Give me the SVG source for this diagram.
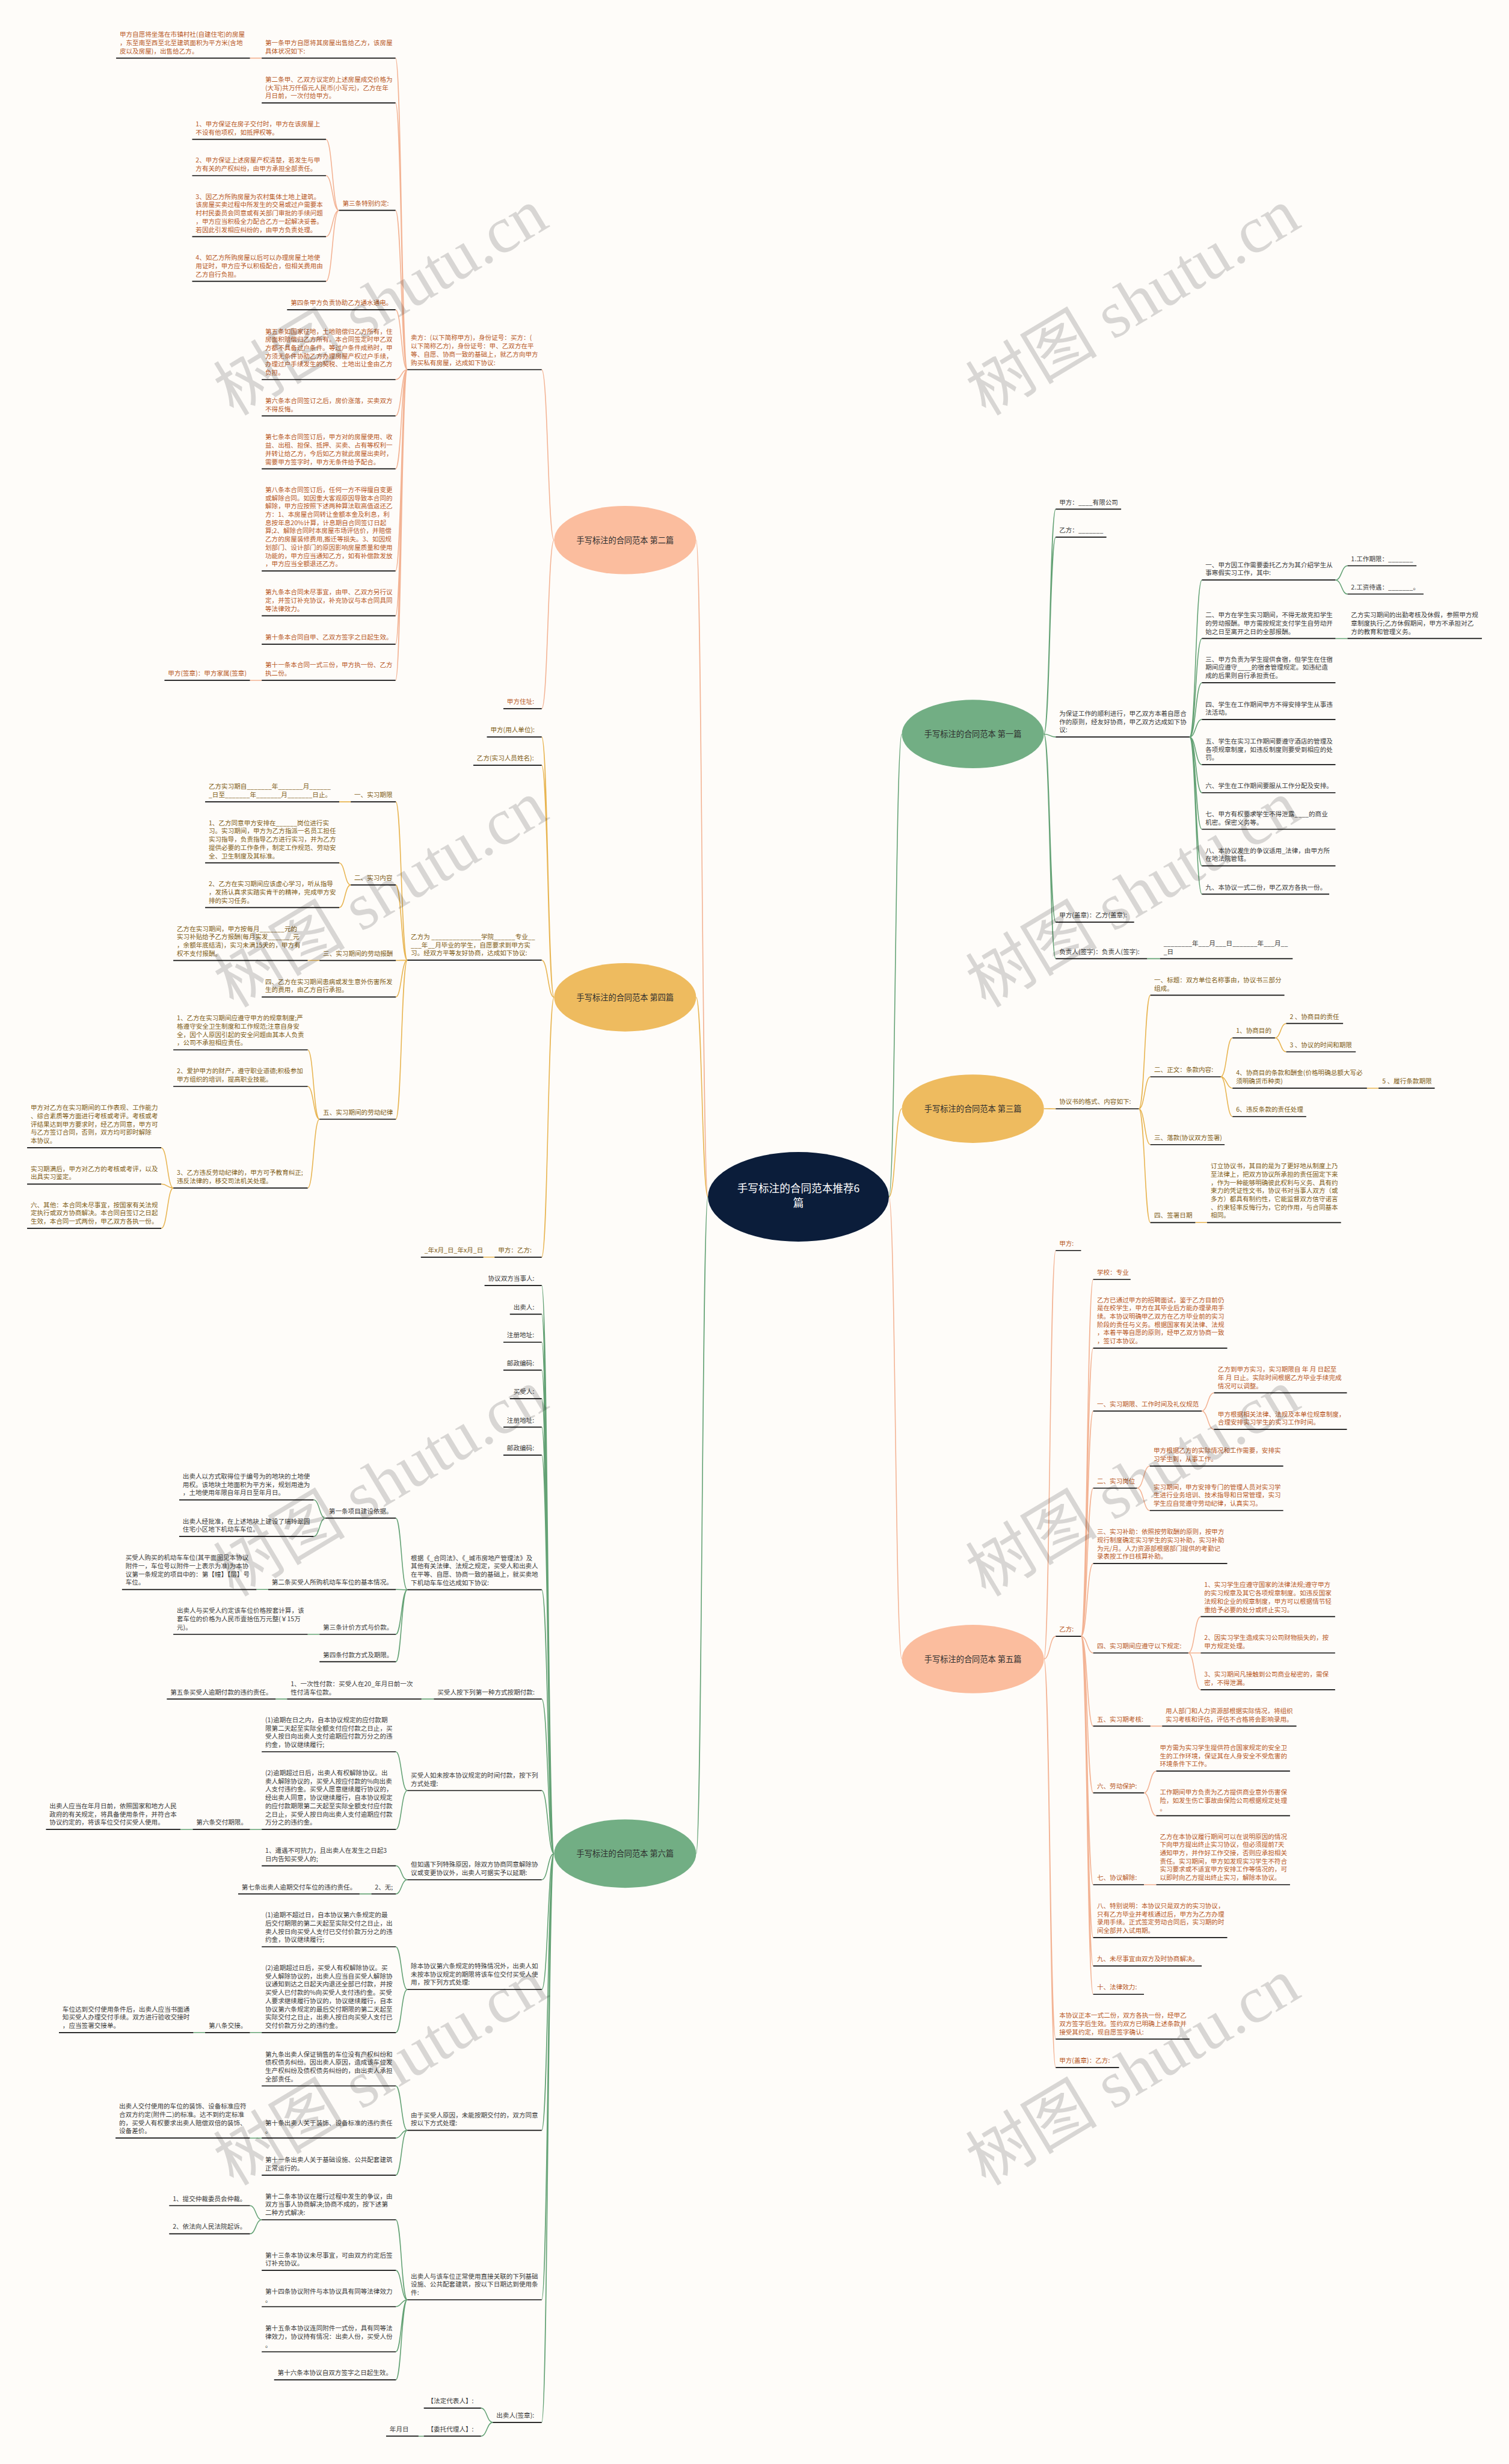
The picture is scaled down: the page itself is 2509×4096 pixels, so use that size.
<svg xmlns="http://www.w3.org/2000/svg" width="2509" height="4096" viewBox="0 0 2509 4096">
<style>
.t{font-family:"Noto Sans CJK SC","Noto Sans",sans-serif;font-size:10.8px}
.o{fill:#b8581f}
.g{fill:#7e5d16}
.d{fill:#3a3a3a}
.u{stroke:#111;stroke-width:1.7;fill:none}
.ks{fill:none;stroke:#f3b394;stroke-width:1.6}
.ky{fill:none;stroke:#e8b552;stroke-width:1.6}
.kg{fill:none;stroke:#64a275;stroke-width:1.6}
.bt{font-family:"Noto Sans CJK SC",sans-serif;font-size:13.5px;fill:#2e2e2e;text-anchor:middle}
.ct{font-family:"Noto Sans CJK SC",sans-serif;font-size:18px;fill:#fff;text-anchor:middle}
.wm{font-family:"Liberation Serif","Noto Sans CJK SC",serif;font-size:112px;fill:#000;fill-opacity:.15;text-anchor:middle}
</style>
<rect width="2509" height="4096" fill="#fefcf9"/>
<g transform="scale(0.98008)">
<g id="connectors">
<path class="ks" d="M1201 2030C1191 2030 1191 916 1181 916M940 916C929.5 916 929.5 627 919 627M940 916C929.5 916 929.5 1202 919 1202M691 627C681 627 681 98.6 671 98.6M691 627C681 627 681 174.6 671 174.6M691 627C681 627 681 356.8 671 356.8M691 627C681 627 681 525.4 671 525.4M691 627C681 627 681 643.8 671 643.8M691 627C681 627 681 705.5 671 705.5M691 627C681 627 681 795.3 671 795.3M691 627C681 627 681 968.5 671 968.5M691 627C681 627 681 1044.4 671 1044.4M691 627C681 627 681 1092.6 671 1092.6M691 627C681 627 681 1153.9 671 1153.9M444 98.6H424M575 356.8C564 356.8 564 236.4 553 236.4M575 356.8C564 356.8 564 297.9 553 297.9M575 356.8C564 356.8 564 401.4 553 401.4M575 356.8C564 356.8 564 477.1 553 477.1M444 1153.9H424"/>
<path class="ks" d="M1508 2030C1519 2030 1519 2814 1530 2814M1771 2814C1781 2814 1781 2121 1791 2121M1771 2814C1781 2814 1781 2775.4 1791 2775.4M1771 2814C1781 2814 1781 3458.6 1791 3458.6M1771 2814C1781 2814 1781 3506.8 1791 3506.8M1834 2775.4C1844.3 2775.4 1844.3 2170 1854.6 2170M1834 2775.4C1844.3 2775.4 1844.3 2286.6 1854.6 2286.6M1834 2775.4C1844.3 2775.4 1844.3 2393.3 1854.6 2393.3M1834 2775.4C1844.3 2775.4 1844.3 2524 1854.6 2524M1834 2775.4C1844.3 2775.4 1844.3 2652 1854.6 2652M1834 2775.4C1844.3 2775.4 1844.3 2803.6 1854.6 2803.6M1834 2775.4C1844.3 2775.4 1844.3 2927.7 1854.6 2927.7M1834 2775.4C1844.3 2775.4 1844.3 3041 1854.6 3041M1834 2775.4C1844.3 2775.4 1844.3 3196.7 1854.6 3196.7M1834 2775.4C1844.3 2775.4 1844.3 3286.4 1854.6 3286.4M1834 2775.4C1844.3 2775.4 1844.3 3334.5 1854.6 3334.5M1834 2775.4C1844.3 2775.4 1844.3 3382.6 1854.6 3382.6M2038.7 2393.3C2049 2393.3 2049 2362.5 2059.6 2362.5M2038.7 2393.3C2049 2393.3 2049 2424.5 2059.6 2424.5M1929 2524C1940 2524 1940 2486.6 1950.6 2486.6M1929 2524C1940 2524 1940 2562 1950.6 2562M2016 2803.6C2026.5 2803.6 2026.5 2742 2037 2742M2016 2803.6H2037M2016 2803.6C2026.5 2803.6 2026.5 2866 2037 2866M1951.6 2927.7H1971.5M1940.7 3041C1951 3041 1951 3004 1961.6 3004M1940.7 3041C1951 3041 1951 3079.7 1961.6 3079.7M1940.7 3196.7H1961.6"/>
<path class="ky" d="M1201 2030C1191 2030 1191 1691.5 1181 1691.5M940 1691.5C929.5 1691.5 929.5 1250 919 1250M940 1691.5C929.5 1691.5 929.5 1297.9 919 1297.9M940 1691.5C929.5 1691.5 929.5 1628.6 919 1628.6M940 1691.5C929.5 1691.5 929.5 2132.3 919 2132.3M691 1628.6C681 1628.6 681 1360 671.5 1360M691 1628.6C681 1628.6 681 1501 671.5 1501M691 1628.6C681 1628.6 681 1629 671.5 1629M691 1628.6C681 1628.6 681 1691 671.5 1691M691 1628.6C681 1628.6 681 1898.3 671.5 1898.3M595 1360H575.5M595 1501C585 1501 585 1463.6 575.5 1463.6M595 1501C585 1501 585 1539.3 575.5 1539.3M542 1629H522M542 1898.3C532 1898.3 532 1780.7 522 1780.7M542 1898.3C532 1898.3 532 1842.7 522 1842.7M542 1898.3C532 1898.3 532 2015 522 2015M294 2015C284 2015 284 1946.7 273.5 1946.7M294 2015C284 2015 284 2008.3 273.5 2008.3M294 2015C284 2015 284 2083.3 273.5 2083.3M839 2132.3H820"/>
<path class="ky" d="M1508 2030C1519 2030 1519 1880.5 1530 1880.5M1771 1880.5C1781 1880.5 1781 1880.7 1791 1880.7M1932 1880.7C1942 1880.7 1942 1688 1951.6 1688M1932 1880.7C1942 1880.7 1942 1826.4 1951.6 1826.4M1932 1880.7C1942 1880.7 1942 1941.4 1951.6 1941.4M1932 1880.7C1942 1880.7 1942 2073.6 1951.6 2073.6M2071 1826.4C2081 1826.4 2081 1760.4 2091 1760.4M2071 1826.4C2081 1826.4 2081 1845.7 2091 1845.7M2071 1826.4C2081 1826.4 2081 1894 2091 1894M2163 1760.4C2172.5 1760.4 2172.5 1736 2182 1736M2163 1760.4C2172.5 1760.4 2172.5 1784 2182 1784M2319 1845.7H2338.7M2027.8 2073.6H2047.7"/>
<path class="kg" d="M1201 2030C1191 2030 1191 3144 1181 3144M940 3144C929.5 3144 929.5 2180.3 919 2180.3M940 3144C929.5 3144 929.5 2229 919 2229M940 3144C929.5 3144 929.5 2276.6 919 2276.6M940 3144C929.5 3144 929.5 2324 919 2324M940 3144C929.5 3144 929.5 2372.4 919 2372.4M940 3144C929.5 3144 929.5 2420.6 919 2420.6M940 3144C929.5 3144 929.5 2468 919 2468M940 3144C929.5 3144 929.5 2696.4 919 2696.4M940 3144C929.5 3144 929.5 2881.8 919 2881.8M940 3144C929.5 3144 929.5 3037 919 3037M940 3144C929.5 3144 929.5 3188.3 919 3188.3M940 3144C929.5 3144 929.5 3374.5 919 3374.5M940 3144C929.5 3144 929.5 3613.3 919 3613.3M940 3144C929.5 3144 929.5 3900.7 919 3900.7M940 3144C929.5 3144 929.5 4108.7 919 4108.7M691 2696.4C681 2696.4 681 2575 671.5 2575M691 2696.4C681 2696.4 681 2696 671.5 2696M691 2696.4C681 2696.4 681 2772 671.5 2772M691 2696.4C681 2696.4 681 2818.6 671.5 2818.6M552 2575C542 2575 542 2544 532 2544M552 2575C542 2575 542 2606 532 2606M455 2696H435M542 2772H522M736 2881.8H715M487 2881.8H467.6M691 3037C681 3037 681 2971.2 671.5 2971.2M691 3037C681 3037 681 3103 671.5 3103M444 3103H424M327 3103H306M691 3188.3C681 3188.3 681 3164.6 671.5 3164.6M691 3188.3C681 3188.3 681 3212.4 671.5 3212.4M630 3212.4H610M691 3374.5C681 3374.5 681 3302 671.5 3302M691 3374.5C681 3374.5 681 3447.5 671.5 3447.5M444 3447.5H424M348 3447.5H328M691 3613.3C681 3613.3 681 3538 671.5 3538M691 3613.3C681 3613.3 681 3626.4 671.5 3626.4M691 3613.3C681 3613.3 681 3689.4 671.5 3689.4M444 3626.4H424M691 3900.7C681 3900.7 681 3765 671.5 3765M691 3900.7C681 3900.7 681 3850.8 671.5 3850.8M691 3900.7C681 3900.7 681 3912.4 671.5 3912.4M691 3900.7C681 3900.7 681 3989 671.5 3989M691 3900.7C681 3900.7 681 4036.5 671.5 4036.5M444 3765C434 3765 434 3741 424 3741M444 3765C434 3765 434 3788.8 424 3788.8M836 4108.7C826 4108.7 826 4084.5 816 4084.5M836 4108.7C826 4108.7 826 4132 816 4132M719 4132H710"/>
<path class="kg" d="M1508 2030C1519 2030 1519 1245 1530 1245M1771 1245C1781 1245 1781 863.6 1791 863.6M1771 1245C1781 1245 1781 911 1791 911M1771 1245C1781 1245 1781 1250 1791 1250M1771 1245C1781 1245 1781 1564 1791 1564M1771 1245C1781 1245 1781 1626 1791 1626M2018 1250C2028.5 1250 2028.5 983.8 2039 983.8M2018 1250C2028.5 1250 2028.5 1083 2039 1083M2018 1250C2028.5 1250 2028.5 1158 2039 1158M2018 1250C2028.5 1250 2028.5 1220.4 2039 1220.4M2018 1250C2028.5 1250 2028.5 1297 2039 1297M2018 1250C2028.5 1250 2028.5 1344.5 2039 1344.5M2018 1250C2028.5 1250 2028.5 1406.5 2039 1406.5M2018 1250C2028.5 1250 2028.5 1468.6 2039 1468.6M2018 1250C2028.5 1250 2028.5 1516.6 2039 1516.6M2265.6 983.8C2276 983.8 2276 959.6 2286 959.6M2265.6 983.8C2276 983.8 2276 1007.6 2286 1007.6M2265.6 1083H2286M1946 1626H1968"/>
</g>

<g id="center"><ellipse cx="1354.5" cy="2030" rx="153.5" ry="76" fill="#0b1d3a"/><text class="ct" x="1354.5" y="2022">手写标注的合同范本推荐6</text><text class="ct" x="1354.5" y="2047">篇</text></g>
<g id="b2"><ellipse cx="1060.5" cy="916" rx="120.5" ry="58" fill="#fbbd9e"/><text class="bt" x="1060.5" y="921">手写标注的合同范本 第二篇</text></g>
<g id="b4"><ellipse cx="1060.5" cy="1691.5" rx="120.5" ry="58" fill="#eebb5f"/><text class="bt" x="1060.5" y="1696.5">手写标注的合同范本 第四篇</text></g>
<g id="b6"><ellipse cx="1060.5" cy="3144" rx="120.5" ry="58" fill="#72ae84"/><text class="bt" x="1060.5" y="3149">手写标注的合同范本 第六篇</text></g>
<g id="b1"><ellipse cx="1650.5" cy="1245" rx="120.5" ry="58" fill="#72ae84"/><text class="bt" x="1650.5" y="1250">手写标注的合同范本 第一篇</text></g>
<g id="b3"><ellipse cx="1650.5" cy="1880.5" rx="120.5" ry="58" fill="#eebb5f"/><text class="bt" x="1650.5" y="1885.5">手写标注的合同范本 第三篇</text></g>
<g id="b5"><ellipse cx="1650.5" cy="2814" rx="120.5" ry="58" fill="#fbbd9e"/><text class="bt" x="1650.5" y="2819">手写标注的合同范本 第五篇</text></g>

<!-- 第二篇 -->
<g id="n2_0"><text class="t o"><tspan x="697" y="577">卖方：(以下简称甲方)，身份证号：买方：(</tspan><tspan x="697" y="591">以下简称乙方)，身份证号：甲、乙双方在平</tspan><tspan x="697" y="605">等、自愿、协商一致的基础上，就乙方向甲方</tspan><tspan x="697" y="619">购买私有房屋，达成如下协议:</tspan></text><path class="u" d="M691 627H919"/></g>
<g id="n2_1"><text class="t o"><tspan x="450" y="76.6">第一条甲方自愿将其房屋出售给乙方，该房屋</tspan><tspan x="450" y="90.6">具体状况如下:</tspan></text><path class="u" d="M444 98.6H671"/></g>
<g id="n2_1a"><text class="t o"><tspan x="203" y="62.6">甲方自愿将坐落在市镇村社(自建住宅)的房屋</tspan><tspan x="203" y="76.6">，东至南至西至北至建筑面积为平方米(含地</tspan><tspan x="203" y="90.6">皮以及房屋)，出售给乙方。</tspan></text><path class="u" d="M197 98.6H424"/></g>
<g id="n2_2"><text class="t o"><tspan x="450" y="138.6">第二条甲、乙双方议定的上述房屋成交价格为</tspan><tspan x="450" y="152.6">(大写)共万仟佰元人民币(小写元)，乙方在年</tspan><tspan x="450" y="166.6">月日前，一次付给甲方。</tspan></text><path class="u" d="M444 174.6H671"/></g>
<g id="n2_3"><text class="t o" x="581" y="348.8">第三条特别约定:</text><path class="u" d="M575 356.8H671"/></g>
<g id="n2_3a"><text class="t o"><tspan x="332" y="214.4">1、甲方保证在房子交付时，甲方在该房屋上</tspan><tspan x="332" y="228.4">不设有他项权，如抵押权等。</tspan></text><path class="u" d="M326 236.4H553"/></g>
<g id="n2_3b"><text class="t o"><tspan x="332" y="275.9">2、甲方保证上述房屋产权清楚，若发生与甲</tspan><tspan x="332" y="289.9">方有关的产权纠纷，由甲方承担全部责任。</tspan></text><path class="u" d="M326 297.9H553"/></g>
<g id="n2_3c"><text class="t o"><tspan x="332" y="337.4">3、因乙方所购房屋为农村集体土地上建筑。</tspan><tspan x="332" y="351.4">该房屋买卖过程中所发生的交易或过户需要本</tspan><tspan x="332" y="365.4">村村民委员会同意或有关部门审批的手续问题</tspan><tspan x="332" y="379.4">，甲方应当积极全力配合乙方一起解决妥善。</tspan><tspan x="332" y="393.4">若因此引发相应纠纷的，由甲方负责处理。</tspan></text><path class="u" d="M326 401.4H553"/></g>
<g id="n2_3d"><text class="t o"><tspan x="332" y="441.1">4、如乙方所购房屋以后可以办理房屋土地使</tspan><tspan x="332" y="455.1">用证时，甲方应予以积极配合，但相关费用由</tspan><tspan x="332" y="469.1">乙方自行负担。</tspan></text><path class="u" d="M326 477.1H553"/></g>
<g id="n2_4"><text class="t o" x="493" y="517.4">第四条甲方负责协助乙方通水通电。</text><path class="u" d="M487 525.4H671"/></g>
<g id="n2_5"><text class="t o"><tspan x="450" y="565.8">第五条如国家征地，土地赔偿归乙方所有，住</tspan><tspan x="450" y="579.8">房面积赔偿归乙方所有。本合同签定时甲乙双</tspan><tspan x="450" y="593.8">方都不具备过户条件。等过户条件成熟时，甲</tspan><tspan x="450" y="607.8">方须无条件协助乙方办理房屋产权过户手续，</tspan><tspan x="450" y="621.8">办理过户手续发生的契税、土地出让金由乙方</tspan><tspan x="450" y="635.8">负担。</tspan></text><path class="u" d="M444 643.8H671"/></g>
<g id="n2_6"><text class="t o"><tspan x="450" y="683.5">第六条本合同签订之后，房价涨落，买卖双方</tspan><tspan x="450" y="697.5">不得反悔。</tspan></text><path class="u" d="M444 705.5H671"/></g>
<g id="n2_7"><text class="t o"><tspan x="450" y="745.3">第七条本合同签订后，甲方对的房屋使用、收</tspan><tspan x="450" y="759.3">益、出租、担保、抵押、买卖、占有等权利一</tspan><tspan x="450" y="773.3">并转让给乙方，今后如乙方就此房屋出卖时，</tspan><tspan x="450" y="787.3">需要甲方签字时，甲方无条件给予配合。</tspan></text><path class="u" d="M444 795.3H671"/></g>
<g id="n2_8"><text class="t o"><tspan x="450" y="834.5">第八条本合同签订后，任何一方不得擅自变更</tspan><tspan x="450" y="848.5">或解除合同。如因重大客观原因导致本合同的</tspan><tspan x="450" y="862.5">解除，甲方应按照下述两种算法取高值返还乙</tspan><tspan x="450" y="876.5">方：1、本房屋合同转让金额本金及利息，利</tspan><tspan x="450" y="890.5">息按年息20%计算，计息期自合同签订日起</tspan><tspan x="450" y="904.5">算;2、解除合同时本房屋市场评估价，并赔偿</tspan><tspan x="450" y="918.5">乙方的房屋装修费用,搬迁等损失。3、如因规</tspan><tspan x="450" y="932.5">划部门、设计部门的原因影响房屋质量和使用</tspan><tspan x="450" y="946.5">功能的，甲方应当通知乙方，如有补偿款发放</tspan><tspan x="450" y="960.5">，甲方应当全额退还乙方。</tspan></text><path class="u" d="M444 968.5H671"/></g>
<g id="n2_9"><text class="t o"><tspan x="450" y="1008.4">第九条本合同未尽事宜，由甲、乙双方另行议</tspan><tspan x="450" y="1022.4">定，并签订补充协议，补充协议与本合同具同</tspan><tspan x="450" y="1036.4">等法律效力。</tspan></text><path class="u" d="M444 1044.4H671"/></g>
<g id="n2_10"><text class="t o" x="450" y="1084.6">第十条本合同自甲、乙双方签字之日起生效。</text><path class="u" d="M444 1092.6H671"/></g>
<g id="n2_11"><text class="t o"><tspan x="450" y="1131.9">第十一条本合同一式三份，甲方执一份、乙方</tspan><tspan x="450" y="1145.9">执二份。</tspan></text><path class="u" d="M444 1153.9H671"/></g>
<g id="n2_11a"><text class="t o" x="285" y="1145.9">甲方(签章)：甲方家属(签章)</text><path class="u" d="M279 1153.9H424"/></g>
<g id="n2_j"><text class="t o" x="860" y="1194">甲方住址:</text><path class="u" d="M854 1202H919"/></g>

<!-- 第四篇 -->
<g id="n4_1"><text class="t g" x="832" y="1242">甲方(用人单位):</text><path class="u" d="M826 1250H919"/></g>
<g id="n4_2"><text class="t g" x="809" y="1289.9">乙方(实习人员姓名):</text><path class="u" d="M803 1297.9H919"/></g>
<g id="n4_3"><text class="t g"><tspan x="697" y="1592.6">乙方为 ______________学院______专业__</tspan><tspan x="697" y="1606.6">___年__月毕业的学生，自愿要求到甲方实</tspan><tspan x="697" y="1620.6">习。经双方平等友好协商，达成如下协议:</tspan></text><path class="u" d="M691 1628.6H919"/></g>
<g id="n4_3a"><text class="t g" x="601" y="1352">一、实习期限</text><path class="u" d="M595 1360H671.5"/></g>
<g id="n4_3a1"><text class="t g"><tspan x="354" y="1338">乙方实习期自_______年_______月______</tspan><tspan x="354" y="1352">_日至_______年_______月_______日止。</tspan></text><path class="u" d="M348 1360H575.5"/></g>
<g id="n4_3b"><text class="t g" x="601" y="1493">二、实习内容</text><path class="u" d="M595 1501H671.5"/></g>
<g id="n4_3b1"><text class="t g"><tspan x="354" y="1399.6">1、乙方同意甲方安排在______岗位进行实</tspan><tspan x="354" y="1413.6">习。实习期间，甲方为乙方指派一名员工担任</tspan><tspan x="354" y="1427.6">实习指导，负责指导乙方进行实习，并为乙方</tspan><tspan x="354" y="1441.6">提供必要的工作条件，制定工作规范、劳动安</tspan><tspan x="354" y="1455.6">全、卫生制度及其标准。</tspan></text><path class="u" d="M348 1463.6H575.5"/></g>
<g id="n4_3b2"><text class="t g"><tspan x="354" y="1503.3">2、乙方在实习期间应该虚心学习，听从指导</tspan><tspan x="354" y="1517.3">，发扬认真求实踏实肯干的精神，完成甲方安</tspan><tspan x="354" y="1531.3">排的实习任务。</tspan></text><path class="u" d="M348 1539.3H575.5"/></g>
<g id="n4_3c"><text class="t g" x="548" y="1621">三、实习期间的劳动报酬</text><path class="u" d="M542 1629H671.5"/></g>
<g id="n4_3c1"><text class="t g"><tspan x="300" y="1579">乙方在实习期间，甲方按每月_______元的</tspan><tspan x="300" y="1593">实习补贴给予乙方报酬(每月实发_______元</tspan><tspan x="300" y="1607">，余额年底结清)，实习未满15天的，甲方有</tspan><tspan x="300" y="1621">权不支付报酬。</tspan></text><path class="u" d="M294 1629H522"/></g>
<g id="n4_3d"><text class="t g"><tspan x="450" y="1669">四、乙方在实习期间患病或发生意外伤害所发</tspan><tspan x="450" y="1683">生的费用，由乙方自行承担。</tspan></text><path class="u" d="M444 1691H671.5"/></g>
<g id="n4_3e"><text class="t g" x="548" y="1890.3">五、实习期间的劳动纪律</text><path class="u" d="M542 1898.3H671.5"/></g>
<g id="n4_3e1"><text class="t g"><tspan x="300" y="1730.7">1、乙方在实习期间应遵守甲方的规章制度;严</tspan><tspan x="300" y="1744.7">格遵守安全卫生制度和工作规范;注意自身安</tspan><tspan x="300" y="1758.7">全，因个人原因引起的安全问题由其本人负责</tspan><tspan x="300" y="1772.7">，公司不承担相应责任。</tspan></text><path class="u" d="M294 1780.7H522"/></g>
<g id="n4_3e2"><text class="t g"><tspan x="300" y="1820.7">2、爱护甲方的财产，遵守职业道德;积极参加</tspan><tspan x="300" y="1834.7">甲方组织的培训，提高职业技能。</tspan></text><path class="u" d="M294 1842.7H522"/></g>
<g id="n4_3e3"><text class="t g"><tspan x="300" y="1993">3、乙方违反劳动纪律的，甲方可予教育纠正;</tspan><tspan x="300" y="2007">违反法律的，移交司法机关处理。</tspan></text><path class="u" d="M294 2015H522"/></g>
<g id="n4_3e3a"><text class="t g"><tspan x="52" y="1882.7">甲方对乙方在实习期间的工作表现、工作能力</tspan><tspan x="52" y="1896.7">、综合素质等方面进行考核或考评。考核或考</tspan><tspan x="52" y="1910.7">评结果达到甲方要求时，经乙方同意，甲方可</tspan><tspan x="52" y="1924.7">与乙方签订合同，否则，双方均可即时解除</tspan><tspan x="52" y="1938.7">本协议。</tspan></text><path class="u" d="M46 1946.7H273.5"/></g>
<g id="n4_3e3b"><text class="t g"><tspan x="52" y="1986.3">实习期满后，甲方对乙方的考核或考评，以及</tspan><tspan x="52" y="2000.3">出具实习鉴定。</tspan></text><path class="u" d="M46 2008.3H273.5"/></g>
<g id="n4_3e3c"><text class="t g"><tspan x="52" y="2047.3">六、其他：本合同未尽事宜，按国家有关法规</tspan><tspan x="52" y="2061.3">定执行或双方协商解决。本合同自签订之日起</tspan><tspan x="52" y="2075.3">生效，本合同一式两份，甲乙双方各执一份。</tspan></text><path class="u" d="M46 2083.3H273.5"/></g>
<g id="n4_4"><text class="t g" x="845" y="2124.3">甲方：乙方:</text><path class="u" d="M839 2132.3H919"/></g>
<g id="n4_4a"><text class="t g" x="720" y="2124.3">_年x月_日_年x月_日</text><path class="u" d="M714 2132.3H820"/></g>

<!-- 第六篇 -->
<g id="n6_1"><text class="t d" x="828" y="2172.3">协议双方当事人:</text><path class="u" d="M822 2180.3H919"/></g>
<g id="n6_2"><text class="t d" x="871" y="2221">出卖人:</text><path class="u" d="M865 2229H919"/></g>
<g id="n6_3"><text class="t d" x="860" y="2268.6">注册地址:</text><path class="u" d="M854 2276.6H919"/></g>
<g id="n6_4"><text class="t d" x="860" y="2316">邮政编码:</text><path class="u" d="M854 2324H919"/></g>
<g id="n6_5"><text class="t d" x="871" y="2364.4">买受人:</text><path class="u" d="M865 2372.4H919"/></g>
<g id="n6_6"><text class="t d" x="860" y="2412.6">注册地址:</text><path class="u" d="M854 2420.6H919"/></g>
<g id="n6_7"><text class="t d" x="860" y="2460">邮政编码:</text><path class="u" d="M854 2468H919"/></g>
<g id="n6_8"><text class="t d"><tspan x="697" y="2646.4">根据《_合同法》、《_城市房地产管理法》及</tspan><tspan x="697" y="2660.4">其他有关法律、法规之规定，买受人和出卖人</tspan><tspan x="697" y="2674.4">在平等、自愿、协商一致的基础上，就买卖地</tspan><tspan x="697" y="2688.4">下机动车车位达成如下协议:</tspan></text><path class="u" d="M691 2696.4H919"/></g>
<g id="n6_8a"><text class="t d" x="558" y="2567">第一条项目建设依据。</text><path class="u" d="M552 2575H671.5"/></g>
<g id="n6_8a1"><text class="t d"><tspan x="310" y="2508">出卖人以方式取得位于编号为的地块的土地使</tspan><tspan x="310" y="2522">用权。该地块土地面积为平方米，规划用途为</tspan><tspan x="310" y="2536">，土地使用年限自年月日至年月日。</tspan></text><path class="u" d="M304 2544H532"/></g>
<g id="n6_8a2"><text class="t d"><tspan x="310" y="2584">出卖人经批准，在上述地块上建设了瑞玲翠园</tspan><tspan x="310" y="2598">住宅小区地下机动车车位。</tspan></text><path class="u" d="M304 2606H532"/></g>
<g id="n6_8b"><text class="t d" x="461" y="2688">第二条买受人所购机动车车位的基本情况。</text><path class="u" d="M455 2696H671.5"/></g>
<g id="n6_8b1"><text class="t d"><tspan x="213" y="2646">买受人购买的机动车车位(其平面图见本协议</tspan><tspan x="213" y="2660">附件一，车位号以附件一上表示为准)为本协</tspan><tspan x="213" y="2674">议第一条规定的项目中的：第【幢】【层】号</tspan><tspan x="213" y="2688">车位。</tspan></text><path class="u" d="M207 2696H435"/></g>
<g id="n6_8c"><text class="t d" x="548" y="2764">第三条计价方式与价款。</text><path class="u" d="M542 2772H671.5"/></g>
<g id="n6_8c1"><text class="t d"><tspan x="300" y="2736">出卖人与买受人约定该车位价格按套计算，该</tspan><tspan x="300" y="2750">套车位的价格为人民币壹拾伍万元整(￥15万</tspan><tspan x="300" y="2764">元)。</tspan></text><path class="u" d="M294 2772H522"/></g>
<g id="n6_8d"><text class="t d" x="548" y="2810.6">第四条付款方式及期限。</text><path class="u" d="M542 2818.6H671.5"/></g>
<g id="n6_9"><text class="t d" x="742" y="2873.8">买受人按下列第一种方式按期付款:</text><path class="u" d="M736 2881.8H919"/></g>
<g id="n6_9a"><text class="t d"><tspan x="493" y="2859.8">1、一次性付款：买受人在20_年月日前一次</tspan><tspan x="493" y="2873.8">性付清车位款。</tspan></text><path class="u" d="M487 2881.8H715"/></g>
<g id="n6_9a1"><text class="t d" x="289" y="2873.8">第五条买受人逾期付款的违约责任。</text><path class="u" d="M283 2881.8H467.6"/></g>
<g id="n6_10"><text class="t d"><tspan x="697" y="3015">买受人如未按本协议规定的时间付款，按下列</tspan><tspan x="697" y="3029">方式处理:</tspan></text><path class="u" d="M691 3037H919"/></g>
<g id="n6_10a"><text class="t d"><tspan x="450" y="2921.2">(1)逾期在日之内，自本协议规定的应付款期</tspan><tspan x="450" y="2935.2">限第二天起至实际全额支付应付款之日止，买</tspan><tspan x="450" y="2949.2">受人按日向出卖人支付逾期应付款万分之的违</tspan><tspan x="450" y="2963.2">约金，协议继续履行;</tspan></text><path class="u" d="M444 2971.2H671.5"/></g>
<g id="n6_10b"><text class="t d"><tspan x="450" y="3011">(2)逾期超过日后，出卖人有权解除协议。出</tspan><tspan x="450" y="3025">卖人解除协议的，买受人按应付款的%向出卖</tspan><tspan x="450" y="3039">人支付违约金。买受人愿意继续履行协议的，</tspan><tspan x="450" y="3053">经出卖人同意，协议继续履行，自本协议规定</tspan><tspan x="450" y="3067">的应付款期限第二天起至实际全额支付应付款</tspan><tspan x="450" y="3081">之日止，买受人按日向出卖人支付逾期应付款</tspan><tspan x="450" y="3095">万分之的违约金。</tspan></text><path class="u" d="M444 3103H671.5"/></g>
<g id="n6_10b1"><text class="t d" x="333" y="3095">第六条交付期限。</text><path class="u" d="M327 3103H424"/></g>
<g id="n6_10b1a"><text class="t d"><tspan x="84" y="3067">出卖人应当在年月日前，依照国家和地方人民</tspan><tspan x="84" y="3081">政府的有关规定，将具备使用条件，并符合本</tspan><tspan x="84" y="3095">协议约定的，将该车位交付买受人使用。</tspan></text><path class="u" d="M78 3103H306"/></g>
<g id="n6_11"><text class="t d"><tspan x="697" y="3166.3">但如遇下列特殊原因，除双方协商同意解除协</tspan><tspan x="697" y="3180.3">议或变更协议外，出卖人可据实予以延期:</tspan></text><path class="u" d="M691 3188.3H919"/></g>
<g id="n6_11a"><text class="t d"><tspan x="450" y="3142.6">1、遭遇不可抗力，且出卖人在发生之日起3</tspan><tspan x="450" y="3156.6">日内告知买受人的;</tspan></text><path class="u" d="M444 3164.6H671.5"/></g>
<g id="n6_11b"><text class="t d" x="636" y="3204.4">2、无;</text><path class="u" d="M630 3212.4H671.5"/></g>
<g id="n6_11b1"><text class="t d" x="410" y="3204.4">第七条出卖人逾期交付车位的违约责任。</text><path class="u" d="M404 3212.4H610"/></g>
<g id="n6_12"><text class="t d"><tspan x="697" y="3338.5">除本协议第六条规定的特殊情况外，出卖人如</tspan><tspan x="697" y="3352.5">未按本协议规定的期限将该车位交付买受人使</tspan><tspan x="697" y="3366.5">用，按下列方式处理:</tspan></text><path class="u" d="M691 3374.5H919"/></g>
<g id="n6_12a"><text class="t d"><tspan x="450" y="3252">(1)逾期不超过日，自本协议第六条规定的最</tspan><tspan x="450" y="3266">后交付期限的第二天起至实际交付之日止，出</tspan><tspan x="450" y="3280">卖人按日向买受人支付已交付价款万分之的违</tspan><tspan x="450" y="3294">约金，协议继续履行;</tspan></text><path class="u" d="M444 3302H671.5"/></g>
<g id="n6_12b"><text class="t d"><tspan x="450" y="3341.5">(2)逾期超过日后，买受人有权解除协议。买</tspan><tspan x="450" y="3355.5">受人解除协议的，出卖人应当自买受人解除协</tspan><tspan x="450" y="3369.5">议通知到达之日起天内退还全部已付款，并按</tspan><tspan x="450" y="3383.5">买受人已付款的%向买受人支付违约金。买受</tspan><tspan x="450" y="3397.5">人要求继续履行协议的，协议继续履行，自本</tspan><tspan x="450" y="3411.5">协议第六条规定的最后交付期限的第二天起至</tspan><tspan x="450" y="3425.5">实际交付之日止，出卖人按日向买受人支付已</tspan><tspan x="450" y="3439.5">交付价款万分之的违约金。</tspan></text><path class="u" d="M444 3447.5H671.5"/></g>
<g id="n6_12b1"><text class="t d" x="354" y="3439.5">第八条交接。</text><path class="u" d="M348 3447.5H424"/></g>
<g id="n6_12b1a"><text class="t d"><tspan x="106" y="3411.5">车位达到交付使用条件后，出卖人应当书面通</tspan><tspan x="106" y="3425.5">知买受人办理交付手续。双方进行验收交接时</tspan><tspan x="106" y="3439.5">，应当签署交接单。</tspan></text><path class="u" d="M100 3447.5H328"/></g>
<g id="n6_13"><text class="t d"><tspan x="697" y="3591.3">由于买受人原因，未能按期交付的，双方同意</tspan><tspan x="697" y="3605.3">按以下方式处理:</tspan></text><path class="u" d="M691 3613.3H919"/></g>
<g id="n6_13a"><text class="t d"><tspan x="450" y="3488">第九条出卖人保证销售的车位没有产权纠纷和</tspan><tspan x="450" y="3502">债权债务纠纷。因出卖人原因，造成该车位发</tspan><tspan x="450" y="3516">生产权纠纷及债权债务纠纷的，由出卖人承担</tspan><tspan x="450" y="3530">全部责任。</tspan></text><path class="u" d="M444 3538H671.5"/></g>
<g id="n6_13b"><text class="t d"><tspan x="450" y="3604.4">第十条出卖人关于装饰、设备标准的违约责任</tspan><tspan x="450" y="3618.4">。</tspan></text><path class="u" d="M444 3626.4H671.5"/></g>
<g id="n6_13b1"><text class="t d"><tspan x="202" y="3576.4">出卖人交付使用的车位的装饰、设备标准应符</tspan><tspan x="202" y="3590.4">合双方约定(附件二)的标准。达不到约定标准</tspan><tspan x="202" y="3604.4">的，买受人有权要求出卖人赔偿双倍的装饰、</tspan><tspan x="202" y="3618.4">设备差价。</tspan></text><path class="u" d="M196 3626.4H424"/></g>
<g id="n6_13c"><text class="t d"><tspan x="450" y="3667.4">第十一条出卖人关于基础设施、公共配套建筑</tspan><tspan x="450" y="3681.4">正常运行的。</tspan></text><path class="u" d="M444 3689.4H671.5"/></g>
<g id="n6_14"><text class="t d"><tspan x="697" y="3864.7">出卖人与该车位正常使用直接关联的下列基础</tspan><tspan x="697" y="3878.7">设施、公共配套建筑，按以下日期达到使用条</tspan><tspan x="697" y="3892.7">件:</tspan></text><path class="u" d="M691 3900.7H919"/></g>
<g id="n6_14a"><text class="t d"><tspan x="450" y="3729">第十二条本协议在履行过程中发生的争议，由</tspan><tspan x="450" y="3743">双方当事人协商解决;协商不成的，按下述第</tspan><tspan x="450" y="3757">二种方式解决:</tspan></text><path class="u" d="M444 3765H671.5"/></g>
<g id="n6_14a1"><text class="t d" x="293" y="3733">1、提交仲裁委员会仲裁。</text><path class="u" d="M287 3741H424"/></g>
<g id="n6_14a2"><text class="t d" x="293" y="3780.8">2、依法向人民法院起诉。</text><path class="u" d="M287 3788.8H424"/></g>
<g id="n6_14b"><text class="t d"><tspan x="450" y="3828.8">第十三条本协议未尽事宜，可由双方约定后签</tspan><tspan x="450" y="3842.8">订补充协议。</tspan></text><path class="u" d="M444 3850.8H671.5"/></g>
<g id="n6_14c"><text class="t d"><tspan x="450" y="3890.4">第十四条协议附件与本协议具有同等法律效力</tspan><tspan x="450" y="3904.4">。</tspan></text><path class="u" d="M444 3912.4H671.5"/></g>
<g id="n6_14d"><text class="t d"><tspan x="450" y="3953">第十五条本协议连同附件一式份，具有同等法</tspan><tspan x="450" y="3967">律效力，协议持有情况：出卖人份，买受人份</tspan><tspan x="450" y="3981">。</tspan></text><path class="u" d="M444 3989H671.5"/></g>
<g id="n6_14e"><text class="t d" x="471" y="4028.5">第十六条本协议自双方签字之日起生效。</text><path class="u" d="M465 4036.5H671.5"/></g>
<g id="n6_15"><text class="t d" x="842" y="4100.7">出卖人(签章):</text><path class="u" d="M836 4108.7H919"/></g>
<g id="n6_15a"><text class="t d" x="725" y="4076.5">【法定代表人】:</text><path class="u" d="M719 4084.5H816"/></g>
<g id="n6_15b"><text class="t d" x="725" y="4124">【委托代理人】:</text><path class="u" d="M719 4132H816"/></g>
<g id="n6_15b1"><text class="t d" x="661" y="4124">年月日</text><path class="u" d="M655 4132H710"/></g>

<!-- 第一篇 -->
<g id="n1_1"><text class="t d" x="1797" y="855.6">甲方：____有限公司</text><path class="u" d="M1791 863.6H1902"/></g>
<g id="n1_2"><text class="t d" x="1797" y="903">乙方：_______</text><path class="u" d="M1791 911H1877"/></g>
<g id="n1_3"><text class="t d"><tspan x="1797" y="1214">为保证工作的顺利进行，甲乙双方本着自愿合</tspan><tspan x="1797" y="1228">作的原则，经友好协商，甲乙双方达成如下协</tspan><tspan x="1797" y="1242">议:</tspan></text><path class="u" d="M1791 1250H2018"/></g>
<g id="n1_3a"><text class="t d"><tspan x="2045" y="961.8">一、甲方因工作需要委托乙方为其介绍学生从</tspan><tspan x="2045" y="975.8">事寒假实习工作，其中:</tspan></text><path class="u" d="M2039 983.8H2265.6"/></g>
<g id="n1_3a1"><text class="t d" x="2292" y="951.6">1.工作期限：_______</text><path class="u" d="M2286 959.6H2403"/></g>
<g id="n1_3a2"><text class="t d" x="2292" y="999.6">2.工资待遇：_______。</text><path class="u" d="M2286 1007.6H2415"/></g>
<g id="n1_3b"><text class="t d"><tspan x="2045" y="1047">二、甲方在学生实习期间，不得无故克扣学生</tspan><tspan x="2045" y="1061">的劳动报酬。甲方需按规定支付学生自劳动开</tspan><tspan x="2045" y="1075">始之日至离开之日的全部报酬。</tspan></text><path class="u" d="M2039 1083H2265.6"/></g>
<g id="n1_3b1"><text class="t d"><tspan x="2292" y="1047">乙方实习期间的出勤考核及休假，参照甲方规</tspan><tspan x="2292" y="1061">章制度执行;乙方休假期间，甲方不承担对乙</tspan><tspan x="2292" y="1075">方的教育和管理义务。</tspan></text><path class="u" d="M2286 1083H2514"/></g>
<g id="n1_3c"><text class="t d"><tspan x="2045" y="1122">三、甲方负责为学生提供食宿，但学生在住宿</tspan><tspan x="2045" y="1136">期间应遵守____的宿舍管理规定。如违纪造</tspan><tspan x="2045" y="1150">成的后果则自行承担责任。</tspan></text><path class="u" d="M2039 1158H2265.6"/></g>
<g id="n1_3d"><text class="t d"><tspan x="2045" y="1198.4">四、学生在工作期间甲方不得安排学生从事违</tspan><tspan x="2045" y="1212.4">法活动。</tspan></text><path class="u" d="M2039 1220.4H2265.6"/></g>
<g id="n1_3e"><text class="t d"><tspan x="2045" y="1261">五、学生在实习工作期间要遵守酒店的管理及</tspan><tspan x="2045" y="1275">各项规章制度，如违反制度则要受到相应的处</tspan><tspan x="2045" y="1289">罚。</tspan></text><path class="u" d="M2039 1297H2265.6"/></g>
<g id="n1_3f"><text class="t d" x="2045" y="1336.5">六、学生在工作期间要服从工作分配及安排。</text><path class="u" d="M2039 1344.5H2265.6"/></g>
<g id="n1_3g"><text class="t d"><tspan x="2045" y="1384.5">七、甲方有权要求学生不得泄露____的商业</tspan><tspan x="2045" y="1398.5">机密。保密义务等。</tspan></text><path class="u" d="M2039 1406.5H2265.6"/></g>
<g id="n1_3h"><text class="t d"><tspan x="2045" y="1446.6">八、本协议发生的争议适用_法律，由甲方所</tspan><tspan x="2045" y="1460.6">在地法院管辖。</tspan></text><path class="u" d="M2039 1468.6H2265.6"/></g>
<g id="n1_3i"><text class="t d" x="2045" y="1508.6">九、本协议一式二份，甲乙双方各执一份。</text><path class="u" d="M2039 1516.6H2255"/></g>
<g id="n1_4"><text class="t d" x="1797" y="1556">甲方(盖章)：乙方(盖章):</text><path class="u" d="M1791 1564H1924"/></g>
<g id="n1_5"><text class="t d" x="1797" y="1618">负责人(签字)：负责人(签字):</text><path class="u" d="M1791 1626H1946"/></g>
<g id="n1_5a"><text class="t d"><tspan x="1974" y="1604">________年___月___日_______年___月__</tspan><tspan x="1974" y="1618">_日</tspan></text><path class="u" d="M1968 1626H2193"/></g>

<!-- 第三篇 -->
<g id="n3_1"><text class="t g" x="1797" y="1872.7">协议书的格式、内容如下:</text><path class="u" d="M1791 1880.7H1932"/></g>
<g id="n3_1a"><text class="t g"><tspan x="1958" y="1666">一、标题：双方单位名称事由，协议书三部分</tspan><tspan x="1958" y="1680">组成。</tspan></text><path class="u" d="M1951.6 1688H2179"/></g>
<g id="n3_1b"><text class="t g" x="1958" y="1818.4">二、正文：条款内容:</text><path class="u" d="M1951.6 1826.4H2071"/></g>
<g id="n3_1b1"><text class="t g" x="2097" y="1752.4">1、协商目的</text><path class="u" d="M2091 1760.4H2163"/></g>
<g id="n3_1b1a"><text class="t g" x="2188" y="1728">2 、协商目的责任</text><path class="u" d="M2182 1736H2278.5"/></g>
<g id="n3_1b1b"><text class="t g" x="2188" y="1776">3 、协议的时间和期限</text><path class="u" d="M2182 1784H2300"/></g>
<g id="n3_1b2"><text class="t g"><tspan x="2097" y="1823.7">4、协商目的条款和酬金(价格明确总额大写必</tspan><tspan x="2097" y="1837.7">须明确货币种类)</tspan></text><path class="u" d="M2091 1845.7H2319"/></g>
<g id="n3_1b2a"><text class="t g" x="2345" y="1837.7">5 、履行条款期限</text><path class="u" d="M2338.7 1845.7H2434"/></g>
<g id="n3_1b3"><text class="t g" x="2097" y="1886">6、违反条款的责任处理</text><path class="u" d="M2091 1894H2216"/></g>
<g id="n3_1c"><text class="t g" x="1958" y="1933.4">三、落款(协议双方签署)</text><path class="u" d="M1951.6 1941.4H2077.5"/></g>
<g id="n3_1d"><text class="t g" x="1958" y="2065.6">四、签署日期</text><path class="u" d="M1951.6 2073.6H2027.8"/></g>
<g id="n3_1d1"><text class="t g"><tspan x="2054" y="1981.6">订立协议书，其目的是为了更好地从制度上乃</tspan><tspan x="2054" y="1995.6">至法律上，把双方协议所承担的责任固定下来</tspan><tspan x="2054" y="2009.6">，作为一种能够明确彼此权利与义务、具有约</tspan><tspan x="2054" y="2023.6">束力的凭证性文书，协议书对当事人双方（或</tspan><tspan x="2054" y="2037.6">多方）都具有制约性，它能监督双方信守诺言</tspan><tspan x="2054" y="2051.6">、约束轻率反悔行为，它的作用，与合同基本</tspan><tspan x="2054" y="2065.6">相同。</tspan></text><path class="u" d="M2047.7 2073.6H2275"/></g>

<!-- 第五篇 -->
<g id="n5_1"><text class="t o" x="1797" y="2113">甲方:</text><path class="u" d="M1791 2121H1834"/></g>
<g id="n5_2"><text class="t o" x="1797" y="2767.4">乙方:</text><path class="u" d="M1791 2775.4H1834"/></g>
<g id="n5_2a"><text class="t o" x="1861" y="2162">学校：专业</text><path class="u" d="M1854.6 2170H1918"/></g>
<g id="n5_2b"><text class="t o"><tspan x="1861" y="2208.6">乙方已通过甲方的招聘面试，鉴于乙方目前仍</tspan><tspan x="1861" y="2222.6">是在校学生，甲方在其毕业后方能办理录用手</tspan><tspan x="1861" y="2236.6">续。本协议明确甲乙双方在乙方毕业前的实习</tspan><tspan x="1861" y="2250.6">阶段的责任与义务。根据国家有关法律、法规</tspan><tspan x="1861" y="2264.6">，本着平等自愿的原则，经甲乙双方协商一致</tspan><tspan x="1861" y="2278.6">，签订本协议。</tspan></text><path class="u" d="M1854.6 2286.6H2082"/></g>
<g id="n5_2c"><text class="t o" x="1861" y="2385.3">一、实习期限、工作时间及礼仪规范</text><path class="u" d="M1854.6 2393.3H2038.7"/></g>
<g id="n5_2c1"><text class="t o"><tspan x="2066" y="2326.5">乙方到甲方实习，实习期限自 年 月 日起至</tspan><tspan x="2066" y="2340.5">年 月 日止。实际时间根据乙方毕业手续完成</tspan><tspan x="2066" y="2354.5">情况可以调整。</tspan></text><path class="u" d="M2059.6 2362.5H2285"/></g>
<g id="n5_2c2"><text class="t o"><tspan x="2066" y="2402.5">甲方根据相关法律、法规及本单位规章制度，</tspan><tspan x="2066" y="2416.5">合理安排实习学生的实习工作时间。</tspan></text><path class="u" d="M2059.6 2424.5H2285"/></g>
<g id="n5_2d"><text class="t o" x="1861" y="2516">二、实习岗位</text><path class="u" d="M1854.6 2524H1929"/></g>
<g id="n5_2d1"><text class="t o"><tspan x="1957" y="2464.6">甲方根据乙方的实际情况和工作需要，安排实</tspan><tspan x="1957" y="2478.6">习学生到，从事工作。</tspan></text><path class="u" d="M1950.6 2486.6H2177"/></g>
<g id="n5_2d2"><text class="t o"><tspan x="1957" y="2526">实习期间，甲方安排专门的管理人员对实习学</tspan><tspan x="1957" y="2540">生进行业务培训、技术指导和日常管理，实习</tspan><tspan x="1957" y="2554">学生应自觉遵守劳动纪律，认真实习。</tspan></text><path class="u" d="M1950.6 2562H2177"/></g>
<g id="n5_2e"><text class="t o"><tspan x="1861" y="2602">三、实习补助：依照按劳取酬的原则，按甲方</tspan><tspan x="1861" y="2616">现行制度确定实习学生的实习补助，实习补助</tspan><tspan x="1861" y="2630">为元/月。人力资源部根据部门提供的考勤记</tspan><tspan x="1861" y="2644">录表按工作日核算补助。</tspan></text><path class="u" d="M1854.6 2652H2082"/></g>
<g id="n5_2f"><text class="t o" x="1861" y="2795.6">四、实习期间应遵守以下规定:</text><path class="u" d="M1854.6 2803.6H2016"/></g>
<g id="n5_2f1"><text class="t o"><tspan x="2043" y="2692">1、实习学生应遵守国家的法律法规;遵守甲方</tspan><tspan x="2043" y="2706">的实习规章及其它各项规章制度。如违反国家</tspan><tspan x="2043" y="2720">法规和企业的规章制度，甲方可以根据情节轻</tspan><tspan x="2043" y="2734">重给予必要的处分或终止实习。</tspan></text><path class="u" d="M2037 2742H2265"/></g>
<g id="n5_2f2"><text class="t o"><tspan x="2043" y="2781.6">2、因实习学生造成实习公司财物损失的，按</tspan><tspan x="2043" y="2795.6">甲方规定处理。</tspan></text><path class="u" d="M2037 2803.6H2265"/></g>
<g id="n5_2f3"><text class="t o"><tspan x="2043" y="2844">3、实习期间凡接触到公司商业秘密的，需保</tspan><tspan x="2043" y="2858">密，不得泄漏。</tspan></text><path class="u" d="M2037 2866H2265"/></g>
<g id="n5_2g"><text class="t o" x="1861" y="2919.7">五、实习期考核:</text><path class="u" d="M1854.6 2927.7H1951.6"/></g>
<g id="n5_2g1"><text class="t o"><tspan x="1977.5" y="2905.7">用人部门和人力资源部根据实际情况，将组织</tspan><tspan x="1977.5" y="2919.7">实习考核和评估，评估不合格将会影响录用。</tspan></text><path class="u" d="M1971.5 2927.7H2199.4"/></g>
<g id="n5_2h"><text class="t o" x="1861" y="3033">六、劳动保护:</text><path class="u" d="M1854.6 3041H1940.7"/></g>
<g id="n5_2h1"><text class="t o"><tspan x="1967.6" y="2968">甲方需为实习学生提供符合国家规定的安全卫</tspan><tspan x="1967.6" y="2982">生的工作环境，保证其在人身安全不受危害的</tspan><tspan x="1967.6" y="2996">环境条件下工作。</tspan></text><path class="u" d="M1961.6 3004H2188.5"/></g>
<g id="n5_2h2"><text class="t o"><tspan x="1967.6" y="3043.7">工作期间甲方负责为乙方提供商业意外伤害保</tspan><tspan x="1967.6" y="3057.7">险，如发生伤亡事故由保险公司根据规定处理</tspan><tspan x="1967.6" y="3071.7">。</tspan></text><path class="u" d="M1961.6 3079.7H2188.5"/></g>
<g id="n5_2i"><text class="t o" x="1861" y="3188.7">七、协议解除:</text><path class="u" d="M1854.6 3196.7H1940.7"/></g>
<g id="n5_2i1"><text class="t o"><tspan x="1967.6" y="3118.7">乙方在本协议履行期间可以在说明原因的情况</tspan><tspan x="1967.6" y="3132.7">下向甲方提出终止实习协议，但必须提前7天</tspan><tspan x="1967.6" y="3146.7">通知甲方，并作好工作交接，否则应承担相关</tspan><tspan x="1967.6" y="3160.7">责任。实习期间，甲方如发现实习学生不符合</tspan><tspan x="1967.6" y="3174.7">实习要求或不适宜甲方安排工作等情况的，可</tspan><tspan x="1967.6" y="3188.7">以即时向乙方提出终止实习，解除本协议。</tspan></text><path class="u" d="M1961.6 3196.7H2188.5"/></g>
<g id="n5_2j"><text class="t o"><tspan x="1861" y="3236.4">八、特别说明：本协议只是双方的实习协议，</tspan><tspan x="1861" y="3250.4">只有乙方毕业并考核通过后，甲方为乙方办理</tspan><tspan x="1861" y="3264.4">录用手续。正式签定劳动合同后，实习期的时</tspan><tspan x="1861" y="3278.4">间全部并入试用期。</tspan></text><path class="u" d="M1854.6 3286.4H2082"/></g>
<g id="n5_2k"><text class="t o" x="1861" y="3326.5">九、未尽事宜由双方及时协商解决。</text><path class="u" d="M1854.6 3334.5H2038.7"/></g>
<g id="n5_2l"><text class="t o" x="1861" y="3374.6">十、法律效力:</text><path class="u" d="M1854.6 3382.6H1940.7"/></g>
<g id="n5_3"><text class="t o"><tspan x="1797" y="3422.6">本协议正本一式二份，双方各执一份，经甲乙</tspan><tspan x="1797" y="3436.6">双方签字后生效。签约双方已明确上述条款并</tspan><tspan x="1797" y="3450.6">接受其约定，现自愿签字确认:</tspan></text><path class="u" d="M1791 3458.6H2018"/></g>
<g id="n5_4"><text class="t o" x="1797" y="3498.8">甲方(盖章)：乙方:</text><path class="u" d="M1791 3506.8H1898.4"/></g>

<g id="watermark">
<text class="wm" x="647" y="550" transform="rotate(-31 647 514)">树图 shutu.cn</text>
<text class="wm" x="1923" y="550" transform="rotate(-31 1923 514)">树图 shutu.cn</text>
<text class="wm" x="647" y="1554" transform="rotate(-31 647 1518)">树图 shutu.cn</text>
<text class="wm" x="1923" y="1554" transform="rotate(-31 1923 1518)">树图 shutu.cn</text>
<text class="wm" x="647" y="2553" transform="rotate(-31 647 2517)">树图 shutu.cn</text>
<text class="wm" x="1923" y="2553" transform="rotate(-31 1923 2517)">树图 shutu.cn</text>
<text class="wm" x="647" y="3552" transform="rotate(-31 647 3516)">树图 shutu.cn</text>
<text class="wm" x="1923" y="3552" transform="rotate(-31 1923 3516)">树图 shutu.cn</text>
</g>
</g>
</svg>
